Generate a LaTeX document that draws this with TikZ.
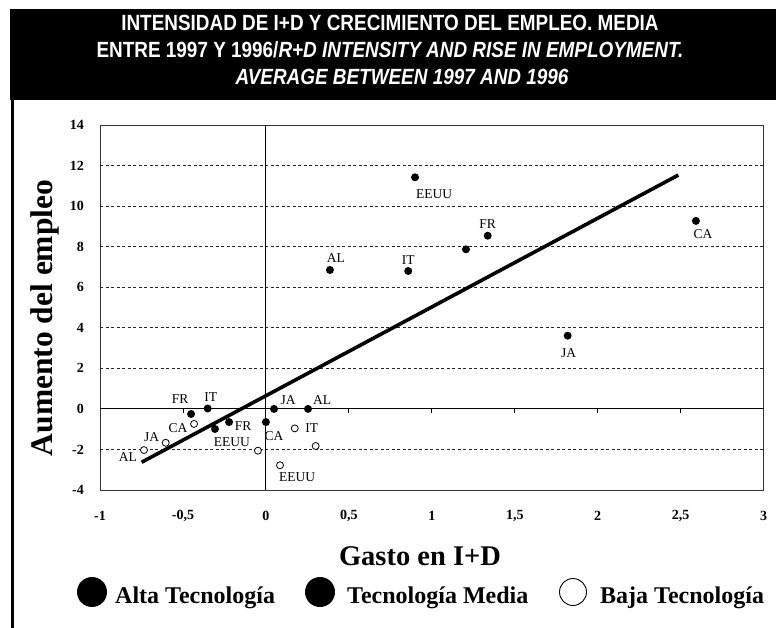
\documentclass[tikz,border=0pt]{standalone}
\usepackage{fontspec}
\setmainfont{Liberation Serif}
\newfontfamily\titlefont[FakeStretch=0.86]{Liberation Sans}
\begin{document}
\begin{tikzpicture}[x=1pt,y=1pt,
  hi/.style={circle,fill=black,inner sep=0pt,minimum size=8pt},
  lo/.style={circle,draw=black,fill=white,line width=0.8pt,inner sep=0pt,minimum size=7pt},
  lab/.style={font=\fontsize{13.5}{14}\selectfont,inner sep=0pt},
  tick/.style={font=\fontsize{14}{15}\selectfont\bfseries,inner sep=0pt},
  grid/.style={line width=0.8pt,dash pattern=on 3pt off 2.5pt,black!85},
  ttl/.style={text=white,font=\titlefont\fontsize{22}{24}\selectfont\bfseries,inner sep=0pt,anchor=base},
  legtext/.style={font=\fontsize{24}{26}\selectfont\bfseries,inner sep=0pt,anchor=base west}]
\useasboundingbox (0,0) rectangle (776,-628);
\fill[white] (0,0) rectangle (776,-628);
% title band
\fill[black] (10,-9) rectangle (776,-100);
\draw[line width=3pt] (12.5,-100) -- (12.5,-628);
\node[ttl] (t1) at (390,-31) {INTENSIDAD DE I+D Y CRECIMIENTO DEL EMPLEO. MEDIA};
\node[ttl] (t2) at (390,-58) {ENTRE 1997 Y 1996/\itshape R+D INTENSITY AND RISE IN EMPLOYMENT.};
\node[ttl] (t3) at (402,-85) {\itshape AVERAGE BETWEEN 1997 AND 1996};
% data scope
\begin{scope}[shift={(265.9,-408.9)},x=165.9pt,y=20.28pt]
  \foreach \g in {-2,2,4,6,8,10,12} \draw[grid] (-1,\g) -- (3,\g);
  \draw[line width=0.8pt,black!80] (-1,-4) rectangle (3,14);
  \draw[line width=1.1pt] (-1,0) -- (3,0);
  \draw[line width=1.1pt] (0,-4) -- (0,14);
  \foreach \t in {-0.5,0.5,1,1.5,2,2.5} \draw[line width=0.8pt] (\t,0) -- ([yshift=-4pt]\t,0);
  % y tick labels
  \foreach \v in {-4,-2,0,2,4,6,8,10,12,14}
    \node[tick,anchor=east] (yt\v) at ([xshift=-16pt]-1,\v) {\v};
  % x tick labels
  \foreach \v/\s in {-1/-1,-0.5/-0{,}5,0/0,0.5/0{,}5,1/1,1.5/1{,}5,2/2,2.5/2{,}5,3/3}
    \node[tick] (xt\v) at (\v,-5.28) {\s};
  % regression line
  \coordinate (r1) at (-0.749,-2.63);
  \coordinate (r2) at (2.486,11.53);
  \draw[line width=3.6pt] (r1) -- (r2);
  % high technology
  \node[hi] (hEEUU) at (0.899,11.42) {};
  \node[hi] (hFR) at (1.337,8.54) {};
  \node[hi] (hX) at (1.206,7.87) {};
  \node[hi] (hIT) at (0.858,6.80) {};
  \node[hi] (hAL) at (0.386,6.85) {};
  \node[hi] (hCA) at (2.592,9.27) {};
  \node[hi] (hJA) at (1.819,3.61) {};
  % medium technology
  \node[hi] (mFR) at (-0.451,-0.25) {};
  \node[hi] (mIT) at (-0.351,0.02) {};
  \node[hi] (mEEUU) at (-0.307,-0.99) {};
  \node[hi] (mFRb) at (-0.222,-0.65) {};
  \node[hi] (mCA) at (0.0,-0.65) {};
  \node[hi] (mJA) at (0.049,0) {};
  \node[hi] (mAL) at (0.254,0) {};
  % low technology
  \node[lo] (lCA) at (-0.433,-0.74) {};
  \node[lo] (lJA) at (-0.604,-1.67) {};
  \node[lo] (lAL) at (-0.735,-2.03) {};
  \node[lo] (lX) at (-0.048,-2.06) {};
  \node[lo] (lIT) at (0.174,-0.96) {};
  \node[lo] (lY) at (0.300,-1.83) {};
  \node[lo] (lEEUU) at (0.085,-2.78) {};
  % labels
  \node[lab] (tEEUUh) at ([shift={(19pt,-17pt)}]hEEUU.center) {EEUU};
  \node[lab] (tFRh) at ([shift={(0pt,12pt)}]hFR.center) {FR};
  \node[lab] (tITh) at ([shift={(0pt,11pt)}]hIT.center) {IT};
  \node[lab] (tALh) at ([shift={(6pt,12pt)}]hAL.center) {AL};
  \node[lab] (tCAh) at ([shift={(7pt,-13pt)}]hCA.center) {CA};
  \node[lab] (tJAh) at ([shift={(1pt,-17pt)}]hJA.center) {JA};
  \node[lab] (tFRm) at ([shift={(-11pt,15pt)}]mFR.center) {FR};
  \node[lab] (tITm) at ([shift={(3pt,11pt)}]mIT.center) {IT};
  \node[lab] (tEEUUm) at ([shift={(17pt,-13pt)}]mEEUU.center) {EEUU};
  \node[lab] (tFRm2) at ([shift={(14pt,-4pt)}]mFRb.center) {FR};
  \node[lab] (tCAm) at ([shift={(8pt,-14pt)}]mCA.center) {CA};
  \node[lab] (tJAm) at ([shift={(14pt,9pt)}]mJA.center) {JA};
  \node[lab] (tALm) at ([shift={(14pt,9pt)}]mAL.center) {AL};
  \node[lab] (tCAl) at ([shift={(-16pt,-4pt)}]lCA.center) {CA};
  \node[lab] (tJAl) at ([shift={(-14pt,6pt)}]lJA.center) {JA};
  \node[lab] (tALl) at ([shift={(-16pt,-7pt)}]lAL.center) {AL};
  \node[lab] (tITl) at ([shift={(17pt,0pt)}]lIT.center) {IT};
  \node[lab] (tEEUUl) at ([shift={(17pt,-12pt)}]lEEUU.center) {EEUU};
\end{scope}
% axis titles
\node[font=\fontsize{31.5}{33}\selectfont\bfseries,rotate=90,inner sep=0pt] (ylab) at (45,-318) {Aumento del empleo};
\node[font=\fontsize{28.5}{30}\selectfont\bfseries,inner sep=0pt,anchor=base] (xlab) at (420,-565) {Gasto en I+D};
% legend
\node[circle,fill=black,inner sep=0pt,minimum size=30pt] (c1) at (92,-592) {};
\node[legtext] (g1) at (115,-603) {Alta Tecnología};
\node[circle,fill=black,inner sep=0pt,minimum size=30pt] (c2) at (320,-592) {};
\node[legtext] (g2) at (347,-603) {Tecnología Media};
\node[circle,draw=black,line width=0.9pt,inner sep=0pt,minimum size=27pt] (c3) at (573,-592) {};
\node[legtext] (g3) at (600,-603) {Baja Tecnología};
\end{tikzpicture}
\end{document}
